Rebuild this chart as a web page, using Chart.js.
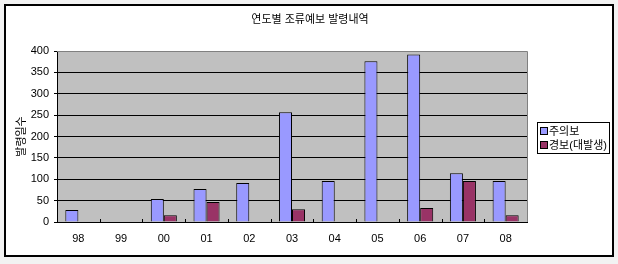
<!DOCTYPE html>
<html><head><meta charset="utf-8">
<script src="https://cdn.jsdelivr.net/npm/chart.js@4/dist/chart.umd.min.js"></script>
<style>html,body{margin:0;padding:0;background:#f2f2f2;}#wrap{width:618px;height:264px;position:relative;}</style>
</head><body><div id="wrap"><canvas id="c" width="618" height="264"></canvas></div>
<script>
const categories = ['98','99','00','01','02','03','04','05','06','07','08'];
const warningValues = [28, 0, 54, 77, 91, 257, 96, 376, 392, 114, 96];
const alertValues = [0, 0, 16, 47, 0, 30, 0, 0, 33, 96, 16];
const seriesLabels = ['주의보', '경보(대발생)'];
const seriesColors = ['#9999ff', '#993366'];
const chartTitle = '연도별 조류예보 발령내역';
const yTitle = '발령일수';
const yTicks = [0, 50, 100, 150, 200, 250, 300, 350, 400];

const FONT = 'Liberation Sans, "Noto Sans CJK KR", sans-serif';

const framePlugin = {
  id: 'frame',
  beforeDraw(chart) {
    const ctx = chart.ctx, a = chart.chartArea;
    ctx.save();
    ctx.fillStyle = '#f2f2f2';
    ctx.fillRect(0, 0, chart.width, chart.height);
    ctx.fillStyle = '#ffffff';
    ctx.fillRect(5, 5, 608, 251);
    ctx.strokeStyle = '#000';
    ctx.lineWidth = 2;
    ctx.strokeRect(5, 5, 608, 251);
    ctx.fillStyle = '#c0c0c0';
    ctx.fillRect(a.left, a.top, a.right - a.left, a.bottom - a.top);
    ctx.restore();
  },
  afterDraw(chart) {
    const ctx = chart.ctx, a = chart.chartArea, xs = chart.scales.x;
    ctx.save();
    // title
    ctx.fillStyle = '#000';
    ctx.font = '11px ' + FONT;
    ctx.textAlign = 'center';
    ctx.textBaseline = 'middle';
    ctx.fillText(chartTitle, 310, 20);
    ctx.textAlign = 'left';
    ctx.strokeStyle = '#808080';
    ctx.lineWidth = 1;
    ctx.beginPath();
    ctx.moveTo(a.left, a.top + 0.5);
    ctx.lineTo(Math.round(a.right) + 0.5, a.top + 0.5);
    ctx.lineTo(Math.round(a.right) + 0.5, a.bottom);
    ctx.stroke();
    // inward tick marks at category boundaries
    ctx.strokeStyle = '#000';
    ctx.beginPath();
    for (let i = 1; i < categories.length; i++) {
      const x = Math.round((xs.getPixelForValue(i - 1) + xs.getPixelForValue(i)) / 2) + 0.5;
      ctx.moveTo(x, a.bottom);
      ctx.lineTo(x, a.bottom - 3);
    }
    ctx.stroke();
    // legend box
    const lx = 537, ly = 122, lw = 72, lh = 31;
    ctx.fillStyle = '#fff';
    ctx.fillRect(lx, ly, lw, lh);
    ctx.strokeStyle = '#000';
    ctx.strokeRect(lx + 0.5, ly + 0.5, lw, lh);
    ctx.font = '11px ' + FONT;
    ctx.textBaseline = 'middle';
    chart.data.datasets.forEach((ds, i) => {
      const cy = ly + 9 + i * 14;
      ctx.fillStyle = ds.backgroundColor;
      ctx.fillRect(lx + 4, cy - 3, 6, 6);
      ctx.strokeStyle = '#000';
      ctx.strokeRect(lx + 3.5, cy - 3.5, 7, 7);
      ctx.fillStyle = '#000';
      ctx.fillText(ds.label, lx + 12, cy + 1);
    });
    ctx.restore();
  }
};

new Chart(document.getElementById('c'), {
  type: 'bar',
  data: {
    labels: categories,
    datasets: [
      { label: seriesLabels[0], data: warningValues, backgroundColor: seriesColors[0], borderColor: '#000', borderWidth: 1 },
      { label: seriesLabels[1], data: alertValues, backgroundColor: seriesColors[1], borderColor: '#000', borderWidth: 1 }
    ]
  },
  options: {
    responsive: false,
    animation: false,
    layout: { padding: { left: 0, right: 91, top: 51, bottom: 0 } },
    datasets: { bar: { categoryPercentage: 0.61, barPercentage: 1.0 } },
    plugins: {
      legend: { display: false },
      tooltip: { enabled: false },
      title: { display: false }
    },
    scales: {
      x: {
        offset: true,
        afterFit(s) { s.height = 42; },
        grid: { display: false, drawTicks: false },
        border: { display: true, color: '#000', width: 1 },
        ticks: { color: '#000', padding: 10, font: { family: FONT, size: 11 }, maxRotation: 0 }
      },
      y: {
        min: 0, max: 400,
        afterFit(s) { s.width = 57; },
        afterBuildTicks(s) { s.ticks = yTicks.map(v => ({ value: v })); },
        grid: {
          color: ctx => (ctx.tick && ctx.tick.value === 400 ? '#808080' : '#000'),
          tickColor: '#000',
          tickLength: 3,
          drawTicks: true
        },
        border: { display: true, color: '#000', width: 1 },
        ticks: { color: '#000', padding: 5, font: { family: FONT, size: 11 } },
        title: {
          display: true, text: yTitle, color: '#000',
          font: { family: FONT, size: 11 },
          padding: { top: 15, bottom: 0 }
        }
      }
    }
  },
  plugins: [framePlugin]
});
</script>
</body></html>
